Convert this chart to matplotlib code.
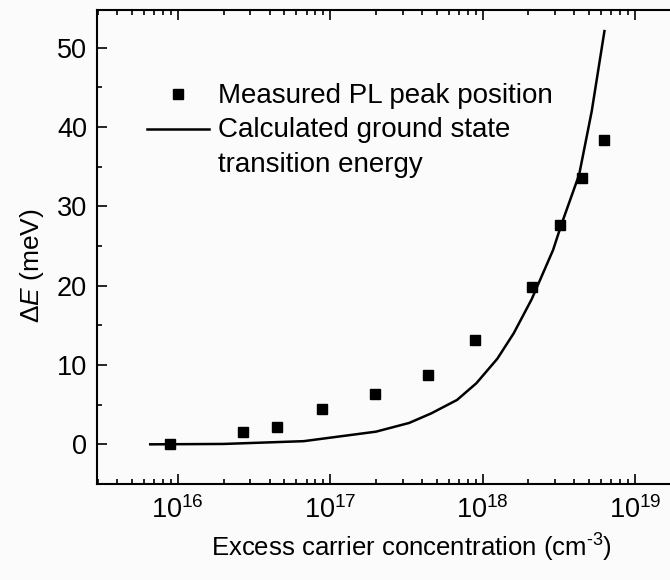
import matplotlib
matplotlib.use("Agg")
import matplotlib.pyplot as plt
from matplotlib.ticker import LogLocator, MultipleLocator, NullFormatter

# Measured PL peak shift versus excess carrier concentration
conc_measured = [8.9e15, 2.7e16, 4.45e16, 8.9e16, 1.97e17, 4.4e17, 8.9e17,
                 2.1e18, 3.24e18, 4.48e18, 6.27e18]
shift_measured = [0.0, 1.6, 2.2, 4.4, 6.4, 8.7, 13.1, 19.9, 27.6, 33.6, 38.4]

# Calculated ground state transition energy shift
conc_calc = [6.6e15, 2.0e16, 6.7e16, 2.0e17, 3.3e17, 4.6e17, 6.8e17, 9.1e17,
             1.25e18, 1.6e18, 2.1e18, 2.9e18, 3.3e18, 4.3e18, 5.2e18, 6.3e18]
shift_calc = [0.0, 0.05, 0.4, 1.6, 2.7, 3.9, 5.6, 7.7,
              10.8, 14.0, 18.3, 24.5, 27.8, 34.0, 42.0, 52.1]

legend_labels = ["Measured PL peak position",
                 "Calculated ground state", "transition energy"]

plt.rcParams["font.family"] = ["Liberation Sans", "DejaVu Sans"]
plt.rcParams["mathtext.fontset"] = "custom"
plt.rcParams["mathtext.rm"] = "Liberation Sans"
plt.rcParams["mathtext.it"] = "Liberation Sans:italic"
plt.rcParams["mathtext.bf"] = "Liberation Sans:bold"

W, H = 670, 580
fig = plt.figure(figsize=(W / 100, H / 100), dpi=100, facecolor="#fbfbfb")

# axes box in pixels
ax_left, ax_top, ax_bottom = 96.7, 10.0, 484.0
ax_width_px = 584.2
ax = fig.add_axes([ax_left / W, (H - ax_bottom) / H,
                   ax_width_px / W, (ax_bottom - ax_top) / H])
ax.set_facecolor("#fbfbfb")

ax.plot(conc_calc, shift_calc, color="black", lw=1.8, solid_joinstyle="miter")
ax.plot(conc_measured, shift_measured, linestyle="none", marker="s",
        ms=7.0, color="black")

ax.set_xscale("log")
ax.set_xlim(2.94e15, 2.0e19)
ax.set_ylim(-5.0, 54.76)

ax.xaxis.set_major_locator(LogLocator(base=10, numticks=10))
ax.xaxis.set_minor_locator(LogLocator(base=10, subs=range(2, 10), numticks=20))
ax.xaxis.set_minor_formatter(NullFormatter())
ax.yaxis.set_major_locator(MultipleLocator(10))
ax.yaxis.set_minor_locator(MultipleLocator(5))
ax.set_yticks([0, 10, 20, 30, 40, 50])

for s in ax.spines.values():
    s.set_linewidth(1.5)

ax.tick_params(which="both", direction="in", top=True, right=True,
               labelsize=19.5, width=1.2, colors="black")
ax.tick_params(axis="y", which="both", pad=7)
ax.tick_params(axis="x", which="both", pad=9)
ax.tick_params(which="major", length=7)
ax.tick_params(which="minor", length=3.6)

ax.set_xlabel(r"Excess carrier concentration (cm$^{\text{-3}}$)", fontsize=18.5)
ax.xaxis.set_label_coords((411 - ax_left) / ax_width_px,
                          (ax_bottom - 548) / (ax_bottom - ax_top))
ax.xaxis.label.set_va("center")

ax.set_ylabel(r"$\Delta E$ (meV)", fontsize=19)
ax.yaxis.set_label_coords((32 - ax_left) / ax_width_px,
                          (ax_bottom - 266) / (ax_bottom - ax_top))
ax.yaxis.label.set_va("center")

# legend drawn in axes coordinates
def ax_xy(px, py):
    return (px - ax_left) / ax_width_px, (ax_bottom - py) / (ax_bottom - ax_top)

mx, my = ax_xy(178.3, 94.3)
ax.plot([mx], [my], marker="s", ms=7.0, color="black", transform=ax.transAxes,
        linestyle="none")
lx0, ly = ax_xy(146.7, 129.0)
lx1, _ = ax_xy(209.0, 129.0)
ax.plot([lx0, lx1], [ly, ly], color="black", lw=1.8, transform=ax.transAxes)
for label, base_py in zip(legend_labels, [103.3, 137.3, 171.7]):
    tx, ty = ax_xy(218.0, base_py)
    ax.text(tx, ty, label, transform=ax.transAxes, fontsize=20,
            ha="left", va="baseline")

fig.savefig("out.png", dpi=100, facecolor=fig.get_facecolor())
